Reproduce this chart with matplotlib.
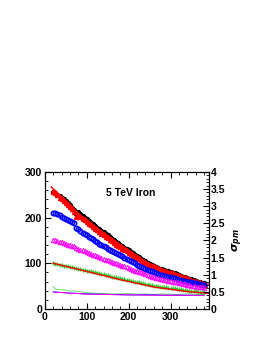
import numpy as np
import matplotlib
matplotlib.use('Agg')
import matplotlib.pyplot as plt
from matplotlib.ticker import MultipleLocator

plt.rcParams['font.family'] = ['Liberation Sans', 'DejaVu Sans']
plt.rcParams['font.weight'] = 'bold'

# distance bins (every 5 units, 20 .. 380)
x = list(range(20, 385, 5))

black = [256, 254, 250, 247, 243, 240, 236, 231, 227, 221, 216, 208, 212, 207, 203, 199,
         196, 192, 189, 185, 182, 178, 175, 171, 168, 164, 161, 157, 154, 150, 147, 144,
         141, 137, 134, 131, 128, 125, 122, 119, 116, 113, 110, 107, 104, 101, 98, 96,
         94, 92, 90, 88, 87, 85, 84, 82, 81, 79, 78, 76, 75, 73, 71, 70, 68, 66, 65, 63,
         62, 60, 59, 57, 56]
red = [259, 255, 251, 246, 243, 238, 234, 229, 225, 220, 215, 203, 206, 203, 199, 196,
       192, 188, 185, 181, 178, 174, 171, 167, 164, 160, 157, 154, 150, 146, 143, 140,
       137, 134, 131, 128, 125, 122, 119, 116, 113, 111, 108, 105, 102, 99, 97, 95, 93,
       91, 89, 87, 86, 84, 83, 81, 80, 78, 77, 75, 74, 72, 70, 69, 67, 65, 64, 62, 61,
       59, 58, 56, 55]
blue = [211, 209, 207, 205, 202, 200, 197, 195, 192, 190, 187, 178, 174, 170, 167, 164,
        161, 158, 155, 152, 149, 146, 143, 140, 137, 135, 132, 130, 127, 125, 122, 120,
        117, 115, 112, 110, 107, 105, 102, 100, 97, 95, 92, 90, 88, 85, 83, 82, 80, 78,
        77, 75, 74, 73, 72, 70, 69, 68, 67, 65, 64, 63, 62, 61, 60, 59, 58, 57, 56, 55,
        54, 53, 52]
magenta = [151, 150, 149, 147, 146, 144, 143, 141, 140, 138, 137, 133, 131, 129, 128, 126,
           124, 122, 121, 119, 117, 115, 114, 112, 110, 108, 107, 105, 103, 101, 100, 98,
           96, 94, 93, 91, 90, 88, 86, 84, 83, 81, 80, 78, 76, 74, 72, 71, 70, 68, 67, 66,
           65, 64, 63, 62, 61, 60, 59, 58, 57, 56, 55, 54, 53, 52, 51, 50, 49, 48, 48, 47,
           46]
green = [100, 99, 98, 97, 96, 95, 94, 93, 92, 91, 90, 89, 88, 87, 86, 85, 84, 83, 82, 81,
         80, 79, 78, 77, 76, 75, 74, 72, 71, 70, 69, 68, 67, 66, 65, 64, 63, 62, 61, 60,
         59, 58, 57, 56, 55, 54, 53, 52, 51, 50, 50, 49, 48, 47, 47, 46, 46, 45, 45, 44,
         43, 43, 42, 41, 41, 40, 40, 39, 39, 38, 38, 38, 38]

fit_x = [15, 40, 65, 90, 115, 140, 165, 190, 215, 240, 265, 290, 315, 340, 365, 390]
fit_top = [267, 245, 222, 201, 184, 167, 151, 135, 119, 104, 93, 84, 76, 68, 61, 54]
fit_low_x = [20, 60, 100, 140, 180, 220, 260, 300, 340, 390]
fit_low = [100, 91, 82, 73, 64, 56, 48, 43, 38, 34]

# sigma_pm curves (right axis)
sig_x = [20, 25, 30, 40, 50, 60, 70, 80, 90, 100, 120, 140, 160, 180, 200, 220, 240,
         260, 280, 300, 320, 340, 360, 380]
sig_green = [0.65, 0.58, 0.57, 0.56, 0.55, 0.52, 0.53, 0.50, 0.49, 0.47, 0.46, 0.45,
             0.44, 0.44, 0.45, 0.43, 0.44, 0.42, 0.44, 0.43, 0.42, 0.44, 0.43, 0.42]
sig_blue = [0.50, 0.49, 0.49, 0.48, 0.47, 0.46, 0.46, 0.45, 0.44, 0.44, 0.43, 0.43,
            0.42, 0.42, 0.41, 0.41, 0.41, 0.41, 0.40, 0.40, 0.40, 0.40, 0.40, 0.40]
sig_magenta = [0.49, 0.49, 0.48, 0.48, 0.47, 0.46, 0.45, 0.45, 0.44, 0.43, 0.43, 0.42,
               0.42, 0.41, 0.41, 0.41, 0.40, 0.40, 0.40, 0.40, 0.40, 0.40, 0.39, 0.39]

fig = plt.figure(figsize=(2.64, 3.41), dpi=100)
ax = fig.add_axes([0.170, 0.094, 0.622, 0.402])

ax.plot(x, black, 'o', color='black', ms=2.8, mec='black')
ax.plot(x, red, '^', color='red', ms=3.6, mec='red')
ax.plot(fit_x, fit_top, '-', color='red', lw=1)
ax.plot(x, blue, 'o', color='none', ms=3.2, mec='blue', mew=1.1)
ax.plot(x, magenta, '^', color='none', ms=3.2, mec='magenta', mew=0.7)
ax.plot(x, green, '+', color='#33cc33', ms=3.0, mew=0.9)
ax.plot(fit_low_x, fit_low, '-', color='red', lw=1)

ax.set_xlim(0, 392)
ax.set_ylim(0, 300)
ax.xaxis.set_major_locator(MultipleLocator(100))
ax.xaxis.set_minor_locator(MultipleLocator(20))
ax.yaxis.set_major_locator(MultipleLocator(100))
ax.yaxis.set_minor_locator(MultipleLocator(20))
ax.tick_params(which='both', direction='in', top=True, labelsize=7.5, pad=2)
ax.tick_params(which='major', length=4)
ax.tick_params(which='minor', length=2)
for lab in ax.get_xticklabels() + ax.get_yticklabels():
    lab.set_fontweight('bold')

ax2 = ax.twinx()
ax2.plot(sig_x, sig_green, '-', color='#66dd66', lw=0.7)
ax2.plot(sig_x, sig_blue, '-', color='blue', lw=0.7)
ax2.plot(sig_x, sig_magenta, '-', color='magenta', lw=0.7)
ax2.set_ylim(0, 4)
ax2.yaxis.set_minor_locator(MultipleLocator(0.1))
ax2.tick_params(which='both', direction='in', labelsize=7.5, pad=1)
ax2.tick_params(which='major', length=4)
ax2.tick_params(which='minor', length=2)
ax2.set_yticks([0, 0.5, 1, 1.5, 2, 2.5, 3, 3.5, 4])
ax2.set_yticklabels(['0', '0.5', '1', '1.5', '2', '2.5', '3', '3.5', '4'])
for lab in ax2.get_yticklabels():
    lab.set_fontweight('bold')
ax2.set_ylabel(r'$\sigma_{pm}$', fontsize=8, rotation=90, labelpad=4)

for a in (ax, ax2):
    for s in a.spines.values():
        s.set_linewidth(0.8)

ax.text(205, 254, '5 TeV Iron', fontsize=7.5, fontweight='bold', ha='center', va='center')

fig.savefig('out.png', dpi=100)
